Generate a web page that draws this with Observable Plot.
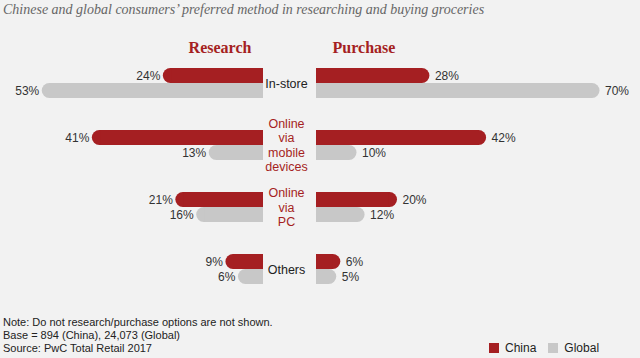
<!DOCTYPE html>
<html><head><meta charset="utf-8">
<script src="https://cdn.jsdelivr.net/npm/d3@7"></script>
<script src="https://cdn.jsdelivr.net/npm/@observablehq/plot@0.6"></script>
<style>
html,body{margin:0;padding:0;background:#f2f2f2;}
#root{position:relative;width:640px;height:358px;overflow:hidden;background:#f2f2f2;font-family:"Liberation Sans",Arial,sans-serif;}
.abs{position:absolute;}
#title{left:3px;top:1px;font:italic 14px "Liberation Serif",serif;color:#666;white-space:nowrap;line-height:18px;}
.head{font:bold 16px "Liberation Serif",serif;color:#a51f22;top:38px;line-height:20px;width:100px;text-align:center;}
#notes{left:3px;top:316px;font-size:11px;color:#222;line-height:13px;white-space:nowrap;}
</style></head>
<body><div id="root"></div>
<script>
const title = "Chinese and global consumers\u2019 preferred method in researching and buying groceries";
const panels = ["Research", "Purchase"];
const categories = ["In-store", "Online via mobile devices", "Online via PC", "Others"];
const series = ["China", "Global"];
const researchChina = [24, 41, 21, 9];
const researchGlobal = [53, 13, 16, 6];
const purchaseChina = [28, 42, 20, 6];
const purchaseGlobal = [70, 10, 12, 5];
const notes = [
  "Note: Do not research/purchase options are not shown.",
  "Base = 894 (China), 24,073 (Global)",
  "Source: PwC Total Retail 2017"
];

const RED = "#a51f22", GREY = "#c8c8c8";
const colors = [RED, GREY];
const root = document.getElementById("root");

function rows(china, global) {
  return categories.flatMap((c, i) => [
    {category: c, series: series[0], value: china[i]},
    {category: c, series: series[1], value: global[i]}
  ]);
}

const H = 310, MT = 51, MB = 11;
const fyOpts = () => ({domain: categories, paddingInner: 0.5, paddingOuter: 0.25, axis: null});

function panel(data, {width, reverse, domain}) {
  return Plot.plot({
    width, height: H, marginTop: MT, marginBottom: MB, marginLeft: 0, marginRight: 0,
    style: {background: "transparent", fontFamily: "'Liberation Sans', Arial, sans-serif", fontSize: "12px", overflow: "visible"},
    x: {domain, reverse, axis: null},
    y: {domain: series, padding: 0, axis: null},
    fy: fyOpts(),
    color: {domain: series, range: colors},
    marks: [
      Plot.barX(data, {x: "value", y: "series", fy: "category", fill: "series", rx: 7.5}),
      Plot.barX(data, {x: d => Math.max(0, d.value - 2), y: "series", fy: "category", fill: "series"}),
      Plot.text(data, {x: "value", y: "series", fy: "category", text: d => d.value + "%",
        textAnchor: reverse ? "end" : "start", dx: reverse ? -3 : 5, fill: "#333", fontSize: 12})
    ]
  });
}

function place(el, left, top) {
  el.style.position = "absolute";
  el.style.left = left + "px";
  el.style.top = top + "px";
  root.appendChild(el);
  return el;
}

const left = panel(rows(researchChina, researchGlobal), {width: 263, reverse: true, domain: [0, 63]});
place(left, 0, 0);
const right = panel(rows(purchaseChina, purchaseGlobal), {width: 324, reverse: false, domain: [0, 80]});
place(right, 316, 0);

const mid = Plot.plot({
  width: 54, height: H, marginTop: MT, marginBottom: MB, marginLeft: 0, marginRight: 0,
  style: {background: "transparent", fontFamily: "'Liberation Sans', Arial, sans-serif", overflow: "visible"},
  fy: fyOpts(),
  color: {type: "identity"},
  marks: [
    Plot.text(categories.map(c => ({category: c})), {x: null, y: null, fy: "category",
      text: d => d.category.replace(/ /g, "\n"),
      fill: d => d.category.startsWith("Online") ? RED : "#222", fontSize: 12.5, lineHeight: 1.15,
      frameAnchor: "middle"})
  ]
});
place(mid, 259, 0);

const t = document.createElement("div");
t.id = "title"; t.className = "abs"; t.textContent = title; root.appendChild(t);

const headLeft = [170, 314];
panels.forEach((p, i) => {
  const d = document.createElement("div");
  d.className = "abs head"; d.textContent = p;
  d.style.left = headLeft[i] + "px";
  root.appendChild(d);
});

const n = document.createElement("div");
n.id = "notes"; n.className = "abs";
n.innerHTML = notes.map(s => `<div>${s}</div>`).join("");
root.appendChild(n);

const leg = Plot.legend({
  color: {domain: series, range: colors},
  legend: "swatches", swatchSize: 10,
  style: {fontSize: "12px", fontFamily: "'Liberation Sans', Arial, sans-serif", color: "#222", background: "transparent"}
});
place(leg, 489, 341);
leg.style.minHeight = "0";
</script>
</body></html>
